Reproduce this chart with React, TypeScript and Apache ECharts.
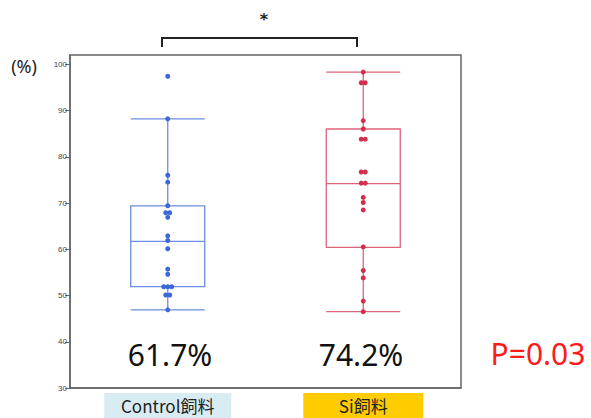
import React, { useEffect, useRef } from "react";
import * as echarts from "echarts";

const categories = ["Control飼料", "Si飼料"];
// [min, Q1, median, Q3, max]
const controlBox = [46.9, 51.9, 61.7, 69.4, 88.2];
const siBox = [46.5, 60.4, 74.2, 86.0, 98.3];
const controlPoints = [97.4, 88.2, 76.0, 74.5, 69.4, 67.9, 67.9, 66.9, 62.9, 61.9, 60.1, 55.7, 54.6, 51.9, 51.9, 51.9, 50.1, 50.1, 46.9];
const siPoints = [98.3, 96.0, 96.0, 87.8, 86.0, 83.8, 83.8, 76.7, 76.7, 74.3, 74.3, 71.2, 70.1, 68.5, 60.5, 55.4, 53.8, 48.8, 46.5];
const medianLabels = ["61.7%", "74.2%"];
const pValueLabel = "P=0.03";
const yMin = 30;
const yMax = 102;
const yInterval = 10;

const BLUE_LINE = "#6a8de3";
const BLUE_DOT = "#3b68d6";
const RED_LINE = "#dd6479";
const RED_DOT = "#d0304e";

function swarm(values: number[], catIndex: number) {
  const counts: Record<string, number> = {};
  values.forEach((v) => {
    counts[String(v)] = (counts[String(v)] || 0) + 1;
  });
  const seen: Record<string, number> = {};
  return values.map((v) => {
    const k = String(v);
    const n = counts[k];
    const i = seen[k] || 0;
    seen[k] = i + 1;
    const dx = (i - (n - 1) / 2) * 4;
    return { value: [catIndex, v], symbolOffset: [dx, 0] };
  });
}

const labelFont = "'Noto Sans CJK JP', 'Noto Sans', sans-serif";

export default function App() {
  const ref = useRef<HTMLDivElement>(null);
  useEffect(() => {
    if (!ref.current) return;
    const chart = echarts.init(ref.current, null, { renderer: "svg" });
    chart.setOption({
      animation: false,
      grid: {
        left: 70,
        right: 130,
        top: 55,
        bottom: 30,
        containLabel: false,
        outerBoundsMode: "none",
        show: true,
        borderColor: "#666",
        borderWidth: 1.5,
        backgroundColor: "transparent",
      },
      xAxis: {
        type: "category",
        data: categories,
        axisLine: { show: true, lineStyle: { color: "#666", width: 1.5 } },
        axisTick: { show: false },
        axisLabel: {
          margin: 5,
          interval: 0,
          formatter: (v: string) => (v === categories[0] ? `{c|${v}}` : `{s|${v}}`),
          rich: {
            c: {
              backgroundColor: "#d9ecf3",
              width: 127,
              height: 25,
              lineHeight: 25,
              align: "center",
              verticalAlign: "top",
              fontSize: 17,
              color: "#222",
              fontFamily: labelFont,
            },
            s: {
              backgroundColor: "#ffcc00",
              width: 120,
              height: 25,
              lineHeight: 25,
              align: "center",
              verticalAlign: "top",
              fontSize: 17,
              color: "#222",
              fontFamily: labelFont,
            },
          },
        },
      },
      yAxis: {
        type: "value",
        min: yMin,
        max: yMax,
        interval: yInterval,
        splitLine: { show: false },
        axisLine: { show: true, lineStyle: { color: "#666", width: 1.5 } },
        axisTick: { show: true, length: 5, lineStyle: { color: "#666" } },
        axisLabel: {
          fontSize: 8,
          color: "#444",
          margin: 3,
          showMaxLabel: false,
          fontFamily: "'Liberation Sans', Arial, sans-serif",
        },
      },
      series: [
        {
          type: "boxplot",
          boxWidth: [74, 74],
          data: [
            { value: controlBox, itemStyle: { color: "transparent", borderColor: BLUE_LINE, borderWidth: 1.3 } },
            { value: siBox, itemStyle: { color: "transparent", borderColor: RED_LINE, borderWidth: 1.3 } },
          ],
          z: 2,
        },
        {
          type: "scatter",
          symbolSize: 5,
          itemStyle: { color: BLUE_DOT, opacity: 1 },
          data: swarm(controlPoints, 0),
          z: 3,
        },
        {
          type: "scatter",
          symbolSize: 5,
          itemStyle: { color: RED_DOT, opacity: 1 },
          data: swarm(siPoints, 1),
          z: 3,
        },
      ],
      graphic: [
        {
          type: "text",
          x: 24,
          y: 66,
          style: {
            text: "(%)",
            fontSize: 18,
            fill: "#222",
            align: "center",
            verticalAlign: "middle",
            fontFamily: "'Noto Sans', sans-serif",
          },
        },
        {
          type: "polyline",
          shape: { points: [[162, 47], [162, 38], [357, 38], [357, 47]] },
          style: { stroke: "#222", lineWidth: 2, fill: "none" },
        },
        {
          type: "text",
          x: 264,
          y: 19,
          style: {
            text: "*",
            fontSize: 16,
            fontWeight: "bold",
            fill: "#222",
            align: "center",
            verticalAlign: "middle",
            fontFamily: "'DejaVu Sans', sans-serif",
          },
        },
        {
          type: "text",
          x: 170,
          y: 354,
          style: {
            text: medianLabels[0],
            fontSize: 30,
            fill: "#111",
            align: "center",
            verticalAlign: "middle",
            fontFamily: "'Noto Sans', sans-serif",
          },
        },
        {
          type: "text",
          x: 361,
          y: 354,
          style: {
            text: medianLabels[1],
            fontSize: 30,
            fill: "#111",
            align: "center",
            verticalAlign: "middle",
            fontFamily: "'Noto Sans', sans-serif",
          },
        },
        {
          type: "text",
          x: 538,
          y: 353,
          style: {
            text: pValueLabel,
            fontSize: 30,
            fill: "#ff1a1a",
            align: "center",
            verticalAlign: "middle",
            fontFamily: "'Noto Sans', sans-serif",
          },
        },
      ],
    });
    return () => chart.dispose();
  }, []);
  return <div ref={ref} style={{ width: 591, height: 418, position: "absolute", left: 0, top: 0 }} />;
}
